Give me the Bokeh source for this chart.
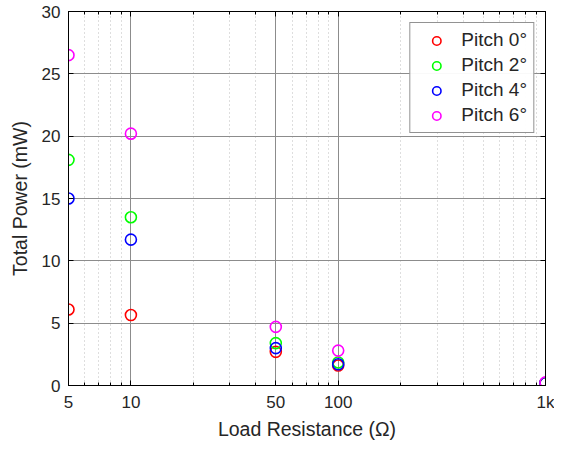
from bokeh.plotting import figure
from bokeh.models import ColumnDataSource, FixedTicker, LinearAxis, LogAxis, Legend, LegendItem, Range1d
from bokeh.embed import file_html
from bokeh.resources import INLINE

resistance = [5, 10, 50, 100, 1000]
pitch0 = [6.1, 5.65, 2.7, 1.6, 0.2]
pitch2 = [18.1, 13.5, 3.4, 1.85, 0.2]
pitch4 = [15.0, 11.7, 3.0, 1.7, 0.2]
pitch6 = [26.5, 20.2, 4.7, 2.8, 0.25]
series_labels = ["Pitch 0°", "Pitch 2°", "Pitch 4°", "Pitch 6°"]
series_colors = ["#ff0000", "#00ff00", "#0000ff", "#ff00ff"]
x_major = [5, 10, 50, 100, 1000]
x_major_labels = {5: "5", 10: "10", 50: "50", 100: "100", 1000: "1k"}
x_minor = [6, 7, 8, 9, 20, 30, 40, 60, 70, 80, 90, 200, 300, 400, 500, 600, 700, 800, 900]
y_ticks = [0, 5, 10, 15, 20, 25, 30]

FONT = "Liberation Sans"
TXT = "#262626"

p = figure(width=554, height=442, x_axis_type="log",
           x_range=Range1d(5, 1000), y_range=Range1d(0, 30),
           output_backend="svg", toolbar_location=None,
           min_border_left=68, min_border_right=9, min_border_top=11, min_border_bottom=53)

p.outline_line_color = "black"
p.outline_line_width = 1
p.background_fill_color = "white"
p.border_fill_color = "white"

xt = FixedTicker(ticks=x_major, minor_ticks=x_minor)
yt = FixedTicker(ticks=y_ticks, minor_ticks=[])
p.xaxis.ticker = xt
p.yaxis.ticker = yt
p.xaxis.major_label_overrides = x_major_labels

for ax in (p.xaxis[0], p.yaxis[0]):
    ax.axis_line_color = "black"
    ax.major_tick_in = 5
    ax.major_tick_out = 0
    ax.minor_tick_in = 3
    ax.minor_tick_out = 0
    ax.major_tick_line_color = "black"
    ax.minor_tick_line_color = "black"
    ax.major_label_text_font = FONT
    ax.major_label_text_font_size = "17px"
    ax.major_label_text_color = TXT
    ax.axis_label_text_font = FONT
    ax.axis_label_text_font_size = "19.5px"
    ax.axis_label_text_font_style = "normal"
    ax.axis_label_text_color = TXT
p.yaxis.minor_tick_line_color = None
p.xaxis.axis_label = "Load Resistance (Ω)"
p.yaxis.axis_label = "Total Power (mW)"
p.xaxis.major_label_standoff = 7
p.yaxis.major_label_standoff = 8
p.xaxis.axis_label_standoff = 3
p.yaxis.axis_label_standoff = 8

# mirrored top/right axes (ticks only)
top = LogAxis(ticker=xt, major_label_text_font_size="0px", major_tick_in=5, major_tick_out=0,
              minor_tick_in=3, minor_tick_out=0, axis_line_color="black", major_label_text_color=None)
right = LinearAxis(ticker=yt, major_label_text_font_size="0px", major_tick_in=5, major_tick_out=0,
                   minor_tick_line_color=None, axis_line_color="black", major_label_text_color=None)
p.add_layout(top, "above")
p.add_layout(right, "right")

p.xgrid.grid_line_color = "#8c8c8c"
p.xgrid.grid_line_width = 1
p.xgrid.minor_grid_line_color = "#bdbdbd"
p.xgrid.minor_grid_line_dash = "1 3"
p.ygrid.grid_line_color = "#8c8c8c"
p.ygrid.grid_line_width = 1

items = []
for vals, lab, col in zip([pitch0, pitch2, pitch4, pitch6], series_labels, series_colors):
    src = ColumnDataSource(dict(x=resistance, y=vals))
    r = p.scatter("x", "y", source=src, marker="circle", size=11, fill_color=None,
                  line_color=col, line_width=1.6)
    items.append(LegendItem(label=lab, renderers=[r]))

legend = Legend(items=items, location="top_right")
legend.label_text_font = FONT
legend.label_text_font_size = "19px"
legend.label_text_color = TXT
legend.border_line_color = "#262626"
legend.border_line_width = 1
legend.margin = 11
legend.padding = 6
legend.spacing = 3
legend.glyph_width = 40
legend.glyph_height = 21
legend.label_height = 21
legend.label_standoff = 5
legend.background_fill_color = "white"
p.add_layout(legend)

open("out.html", "w").write(file_html(p, INLINE))
